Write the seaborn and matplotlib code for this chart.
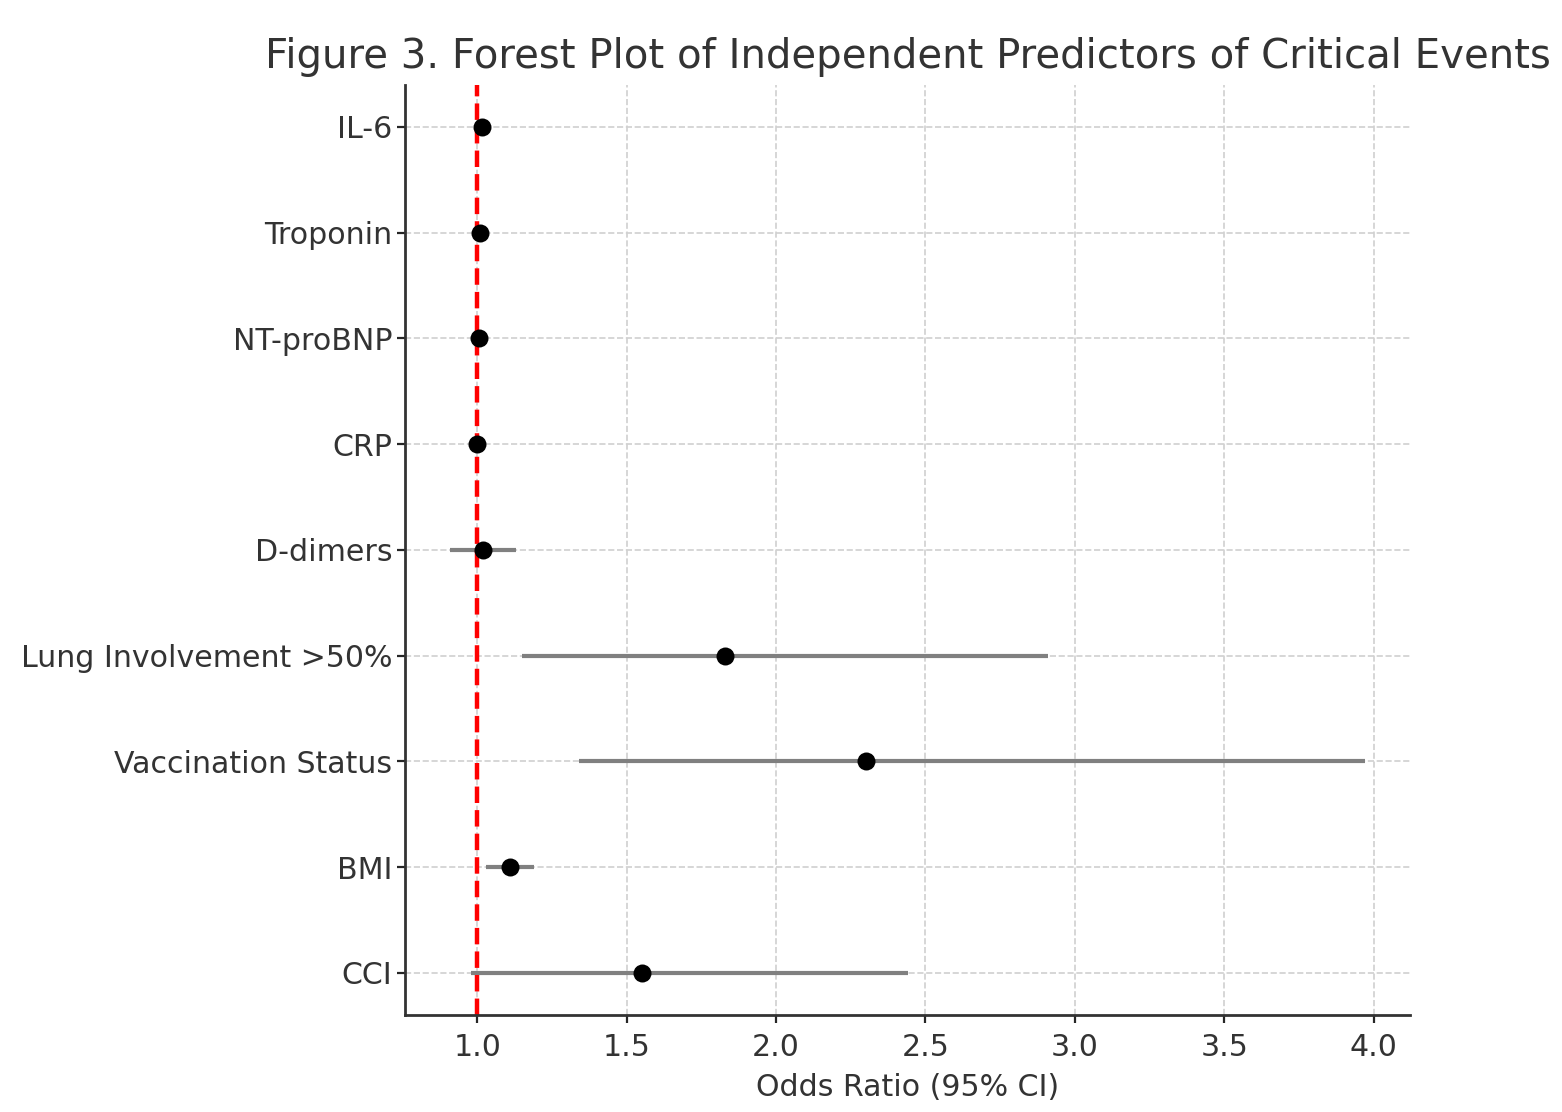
import numpy as np
import matplotlib.pyplot as plt
import seaborn as sns

# Predictors (top to bottom) with odds ratios and 95% CI
predictors = ['IL-6', 'Troponin', 'NT-proBNP', 'CRP', 'D-dimers',
              'Lung Involvement >50%', 'Vaccination Status', 'BMI', 'CCI']
odds_ratio = [1.017, 1.01, 1.005, 1.00, 1.02, 1.83, 2.30, 1.11, 1.55]
ci_lower = [1.01, 1.00, 0.995, 0.99, 0.91, 1.15, 1.34, 1.03, 0.98]
ci_upper = [1.025, 1.02, 1.015, 1.01, 1.13, 2.91, 3.97, 1.19, 2.44]

sns.set_style("ticks")
plt.rcParams['font.family'] = ['DejaVu Sans']

fig, ax = plt.subplots(figsize=(7.81, 5.56), dpi=200)
fig.subplots_adjust(left=0.259, right=0.903, top=0.924, bottom=0.087)

# point estimates (seaborn puts the first category on top)
sns.scatterplot(x=odds_ratio, y=predictors, color='black', s=42, edgecolor='black',
                linewidth=0, zorder=3, ax=ax)

# confidence intervals
ax.hlines(y=predictors, xmin=ci_lower, xmax=ci_upper, color='gray', linewidth=1.5, zorder=2)

# reference line at OR = 1
ax.axvline(1, color='red', linestyle='--', linewidth=1.6, zorder=2.5)

ax.set_xticks([1.0, 1.5, 2.0, 2.5, 3.0, 3.5, 4.0])
ax.set_xlabel('Odds Ratio (95% CI)', fontsize=10.8, color='#333333')
ax.set_title('Figure 3. Forest Plot of Independent Predictors of Critical Events',
             fontsize=14.5, color='#333333')
ax.tick_params(axis='both', labelsize=10.8, labelcolor='#333333', length=3)
ax.tick_params(axis='y', pad=1.5)
ax.grid(True, linestyle='--', color='#d0d0d0', linewidth=0.6, zorder=0)
ax.set_axisbelow(True)
sns.despine(ax=ax)
for s in ['left', 'bottom']:
    ax.spines[s].set_color('#333333')
    ax.spines[s].set_linewidth(1.0)

plt.savefig('out.png', dpi=200)
